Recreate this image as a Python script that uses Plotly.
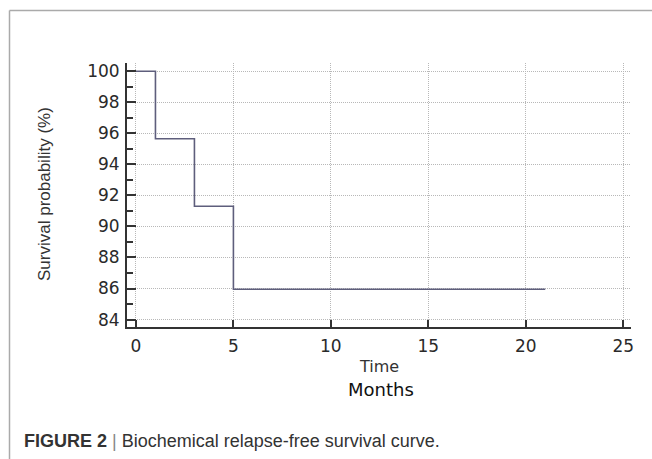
import plotly.graph_objects as go

# Data
time_months = [0, 1, 3, 5, 21]
survival_pct = [100, 95.65, 91.30, 85.95, 85.95]
x_ticks = [0, 5, 10, 15, 20, 25]
y_ticks = [84, 86, 88, 90, 92, 94, 96, 98, 100]

W, H = 652, 459
L, R, T, B = 127, 21, 63, 132
pw = W - L - R
ph = H - T - B

def px(xp):
    return (xp - L) / pw

def py(yp):
    return (H - B - yp) / ph

fig = go.Figure()
fig.add_trace(go.Scatter(
    x=time_months, y=survival_pct, mode="lines", line_shape="hv",
    line=dict(color="#5e5e7c", width=1.6), showlegend=False, hoverinfo="skip"))

axis_common = dict(
    showline=True, linecolor="#333333", linewidth=2,
    ticks="inside", tickcolor="#333333", tickwidth=2,
    showgrid=True, gridcolor="#b8b8b8", griddash="1px,1px", gridwidth=1,
    zeroline=False, mirror=False,
    tickfont=dict(family="DejaVu Sans", size=17, color="#2a2a2a"),
)

fig.update_xaxes(range=[-0.46, 25.4], tickvals=x_ticks, ticklen=7,
                 ticklabelstandoff=3, **axis_common)
fig.update_yaxes(range=[83.52, 100.53], tickvals=y_ticks, ticklen=9,
                 ticklabelstandoff=2,
                 minor=dict(dtick=1, tick0=83, ticks="inside", ticklen=6,
                            tickcolor="#333333", tickwidth=2, showgrid=False),
                 **axis_common)

annotations = [
    dict(text="Survival probability (%)", textangle=-90, x=px(44), y=py(194),
         xref="paper", yref="paper", xanchor="center", yanchor="middle",
         showarrow=False, font=dict(family="Liberation Sans", size=17, color="#333333")),
    dict(text="Time", x=px(379), y=py(366), xref="paper", yref="paper",
         xanchor="center", yanchor="middle", showarrow=False,
         font=dict(family="DejaVu Sans", size=16, color="#333333")),
    dict(text="Months", x=px(381), y=py(389), xref="paper", yref="paper",
         xanchor="center", yanchor="middle", showarrow=False,
         font=dict(family="DejaVu Sans", size=18, color="#111111")),
    dict(text="<b>FIGURE 2</b> <span style='color:#888888'>|</span> Biochemical relapse-free survival curve.",
         x=px(22), y=py(441), xref="paper", yref="paper",
         xanchor="left", yanchor="middle", showarrow=False,
         font=dict(family="Liberation Sans", size=18, color="#333333")),
]

shapes = [
    dict(type="line", xref="paper", yref="paper", x0=px(9.5), x1=px(660),
         y0=py(10.5), y1=py(10.5), line=dict(color="#aaaaaa", width=1.5)),
    dict(type="line", xref="paper", yref="paper", x0=px(9.5), x1=px(9.5),
         y0=py(10.5), y1=py(470), line=dict(color="#aaaaaa", width=1.5)),
]

fig.update_layout(
    width=W, height=H, margin=dict(l=L, r=R, t=T, b=B, autoexpand=False),
    paper_bgcolor="white", plot_bgcolor="white",
    annotations=annotations, shapes=shapes,
)

fig.write_html("out.html", config={"displayModeBar": False},
               post_script="document.body.style.margin='0';document.body.style.overflow='hidden';")
